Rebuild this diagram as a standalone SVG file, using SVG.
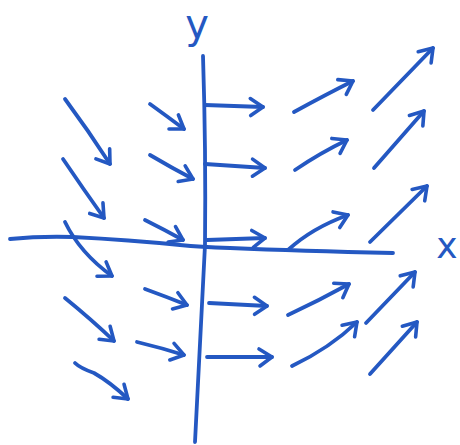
<svg xmlns="http://www.w3.org/2000/svg" width="460" height="445" viewBox="0 0 460 445">
<style>
.ln{fill:none;stroke:#2458c2;stroke-width:3.8;stroke-linecap:round;stroke-linejoin:round}
.ar{marker-end:url(#head)}
.lbl{font-family:"DejaVu Sans","Liberation Sans",sans-serif;fill:#2458c2;text-anchor:middle}
</style>
<defs>
<marker id="head" markerUnits="userSpaceOnUse" viewBox="-16 -12 20 24" refX="0" refY="0" markerWidth="20" markerHeight="24" orient="auto" overflow="visible">
<path d="M-13,-8 L0,0 L-12,9" fill="none" stroke="#2458c2" stroke-width="3.6" stroke-linecap="round" stroke-linejoin="round"/>
</marker>
</defs>
<rect width="460" height="445" fill="#ffffff"/>
<g id="axes">
<path class="ln" d="M203,56 Q206,150 205,245 Q200,340 195,442"/>
<path class="ln" d="M10,239 Q40,236 73,237 Q130,240 180,245 Q200,247 230,248 Q300,251 393,253"/>
</g>
<g id="labels">
<text class="lbl" x="197" y="38" font-size="40">y</text>
<text class="lbl" x="447" y="258" font-size="36">x</text>
</g>
<g id="arrows">
<!-- column 1 -->
<path class="ln ar" d="M65,99 Q88,130 110,164"/>
<path class="ln ar" d="M63,159 Q84,190 104,218"/>
<path class="ln ar" d="M65,222 Q80,253 112,276"/>
<path class="ln ar" d="M65,298 Q92,320 114,341"/>
<path class="ln ar" d="M75,363 Q80,368 94,373 Q110,382 128,399"/>
<!-- column 2 -->
<path class="ln ar" d="M150,104 Q168,117 184,129"/>
<path class="ln ar" d="M150,155 Q172,168 193,179"/>
<path class="ln ar" d="M145,220 Q165,230 183,240"/>
<path class="ln ar" d="M145,289 Q167,297 187,305"/>
<path class="ln ar" d="M137,342 Q162,348 184,355"/>
<!-- column 3 -->
<path class="ln ar" d="M205,105 L263,107"/>
<path class="ln ar" d="M205,164 L265,168"/>
<path class="ln ar" d="M207,240 L265,238"/>
<path class="ln ar" d="M209,303 L267,306"/>
<path class="ln ar" d="M207,357 L272,357"/>
<!-- column 4 -->
<path class="ln ar" d="M294,112 Q325,95 353,81"/>
<path class="ln ar" d="M295,170 Q320,153 347,140"/>
<path class="ln ar" d="M288,250 Q312,228 348,215"/>
<path class="ln ar" d="M288,315 Q320,300 349,284"/>
<path class="ln ar" d="M292,366 Q330,348 357,322"/>
<!-- column 5 -->
<path class="ln ar" d="M373,110 L433,48"/>
<path class="ln ar" d="M374,168 L424,111"/>
<path class="ln ar" d="M370,242 L427,186"/>
<path class="ln ar" d="M366,323 L415,272"/>
<path class="ln ar" d="M370,374 L417,322"/>
</g>
</svg>
